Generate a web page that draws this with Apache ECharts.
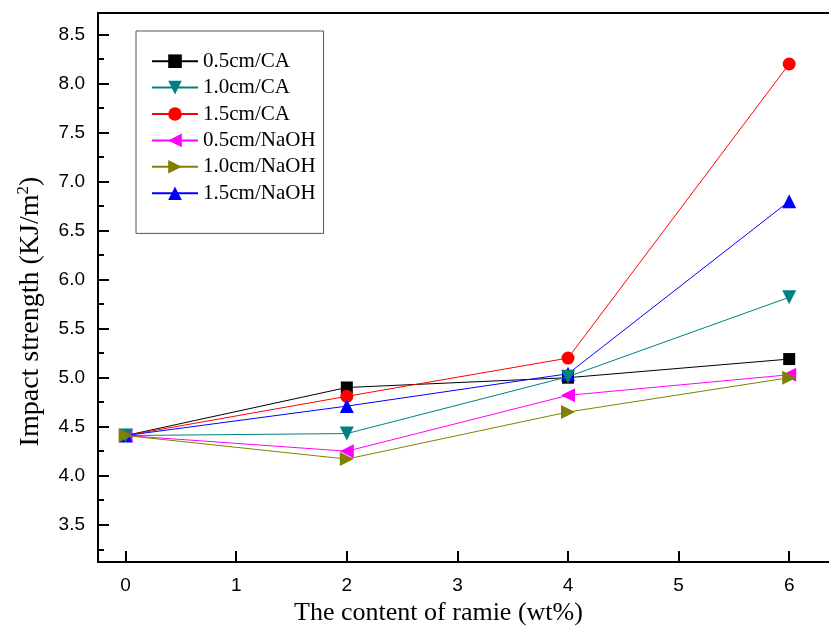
<!DOCTYPE html>
<html>
<head>
<meta charset="utf-8">
<script src="https://cdn.jsdelivr.net/npm/echarts@6/dist/echarts.min.js"></script>
<style>
  html, body { margin: 0; padding: 0; background: #fff; }
  #chart { width: 829px; height: 632px; }
</style>
</head>
<body>
<div id="chart"></div>
<script>
// ramie content (wt%)
const contents = [0, 2, 4, 6];

// impact strength (KJ/m2) per fibre length / treatment
const seriesNames = ['0.5cm/CA', '1.0cm/CA', '1.5cm/CA', '0.5cm/NaOH', '1.0cm/NaOH', '1.5cm/NaOH'];
const ca05 = [4.41, 4.90, 5.00, 5.19];
const ca10 = [4.41, 4.43, 5.01, 5.82];
const ca15 = [4.41, 4.81, 5.20, 8.20];
const naoh05 = [4.41, 4.25, 4.82, 5.03];
const naoh10 = [4.41, 4.17, 4.65, 5.00];
const naoh15 = [4.41, 4.71, 5.04, 6.80];

// tick values
const xTicks = [0, 1, 2, 3, 4, 5, 6];
const yTicks = [3.5, 4.0, 4.5, 5.0, 5.5, 6.0, 6.5, 7.0, 7.5, 8.0, 8.5];
const yMinorTicks = [3.25, 3.75, 4.25, 4.75, 5.25, 5.75, 6.25, 6.75, 7.25, 7.75, 8.25];

const chart = echarts.init(document.getElementById('chart'));

const colors = ['#000000', '#008080', '#ff0000', '#ff00ff', '#808000', '#0000ff'];
const symbols = ['rect', 'triangle', 'circle', 'triangle', 'triangle', 'triangle'];
const rotates = [0, 180, 0, 90, -90, 0];
const sizes = [12, 14, 13, 14, 14, 14];
const zs = [2, 4, 2, 2, 5, 3];
const values = [ca05, ca10, ca15, naoh05, naoh10, naoh15];

const serif = '"Liberation Serif", "Times New Roman", serif';
const sans = '"Liberation Sans", Arial, sans-serif';

const Y_MIN = 3.12, Y_MAX = 8.72;

const series = values.map((vals, i) => ({
  name: seriesNames[i],
  type: 'line',
  xAxisIndex: 0,
  yAxisIndex: 0,
  z: zs[i],
  data: contents.map((x, j) => [x, vals[j]]),
  symbol: symbols[i],
  symbolSize: sizes[i],
  symbolRotate: rotates[i],
  showAllSymbol: true,
  lineStyle: { color: colors[i], width: 1 },
  itemStyle: { color: colors[i] },
}));

// extra y axes that only carry tick marks
function tickAxis(vals, len) {
  return {
    type: 'value',
    position: 'left',
    min: Y_MIN,
    max: Y_MAX,
    axisLine: { show: false, onZero: false },
    axisTick: { show: true, inside: true, length: len, customValues: vals, lineStyle: { color: '#000', width: 2 } },
    axisLabel: { show: false },
    splitLine: { show: false },
  };
}

const option = {
  animation: false,
  grid: { left: 98, top: 13, right: 0, bottom: 70 },
  legend: {
    orient: 'vertical',
    left: 136,
    top: 31,
    padding: [17, 8, 27, 15],
    itemGap: 0,
    itemWidth: 46,
    itemHeight: 17,
    borderColor: '#555',
    borderWidth: 1,
    data: seriesNames,
    textStyle: { fontFamily: serif, fontSize: 21, color: '#000', lineHeight: 26.4 },
  },
  xAxis: [
    {
      type: 'value',
      min: -0.25,
      max: 6.36,
      name: 'The content of ramie (wt%)',
      nameLocation: 'middle',
      nameGap: 38,
      nameTextStyle: { fontFamily: serif, fontSize: 26, color: '#000', padding: [0, 50, 0, 0] },
      axisLine: { show: true, onZero: false, lineStyle: { color: '#000', width: 2 } },
      axisTick: { show: true, inside: true, length: 11, customValues: xTicks, lineStyle: { color: '#000', width: 2 } },
      axisLabel: { customValues: xTicks, margin: 14, fontFamily: sans, fontSize: 19, color: '#000' },
      splitLine: { show: false },
    },
    {
      type: 'value',
      position: 'top',
      min: -0.25,
      max: 6.36,
      axisLine: { show: true, onZero: false, lineStyle: { color: '#000', width: 2 } },
      axisTick: { show: false },
      axisLabel: { show: false },
      splitLine: { show: false },
    },
  ],
  yAxis: [
    {
      type: 'value',
      min: Y_MIN,
      max: Y_MAX,
      name: 'Impact strength (KJ/m{sup|2})',
      nameLocation: 'middle',
      nameGap: 52,
      nameTextStyle: {
        fontFamily: serif,
        fontSize: 28,
        color: '#000',
        padding: [0, 48, 0, 0],
        rich: {
          sup: { fontFamily: serif, fontSize: 17, color: '#000', padding: [0, 0, 14, 0] },
        },
      },
      axisLine: { show: true, onZero: false, lineStyle: { color: '#000', width: 2 } },
      axisTick: { show: true, inside: true, length: 11, customValues: yTicks, lineStyle: { color: '#000', width: 2 } },
      axisLabel: {
        customValues: yTicks,
        margin: 13,
        fontFamily: sans,
        fontSize: 19,
        color: '#000',
        formatter: v => v.toFixed(1),
      },
      splitLine: { show: false },
    },
    tickAxis(yTicks, 11),
    tickAxis(yMinorTicks, 6),
  ],
  series: series,
};

chart.setOption(option);
</script>
</body>
</html>
